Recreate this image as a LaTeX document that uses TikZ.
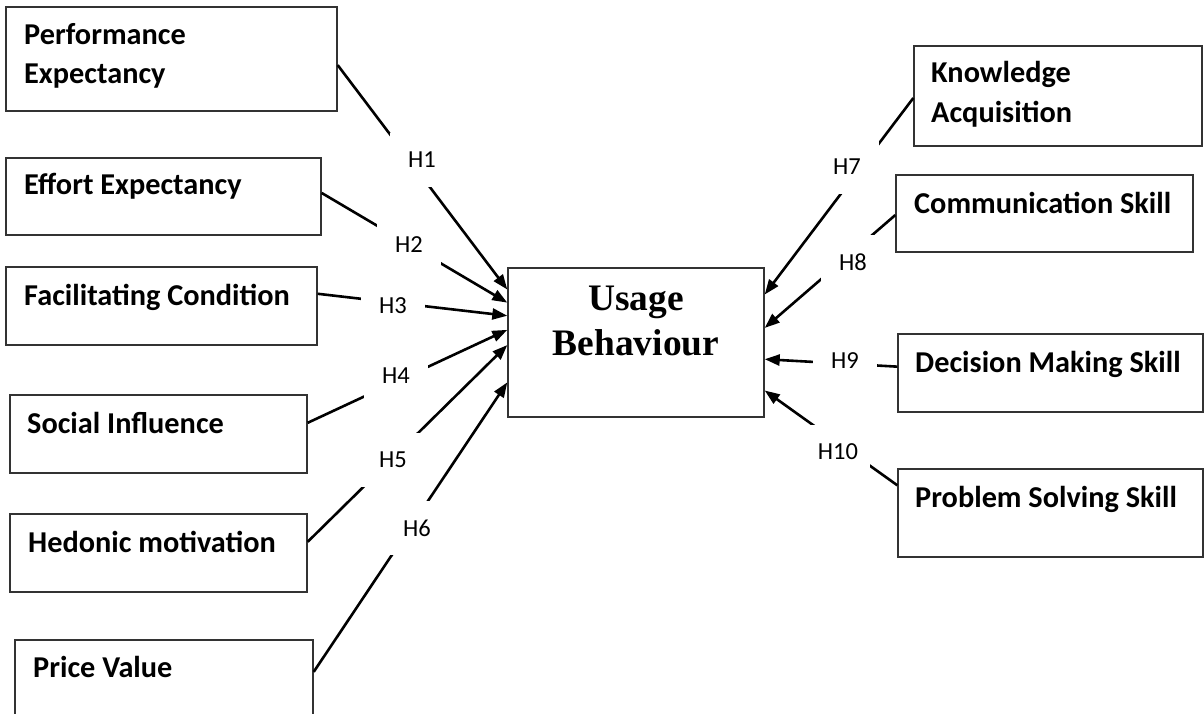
\documentclass[tikz,border=0pt]{standalone}
\usepackage{fontspec}
\setmainfont{Carlito}
\newfontfamily\headserif{Liberation Serif}
\usetikzlibrary{arrows.meta,calc}

\begin{document}
\begin{tikzpicture}[x=1pt,y=-1pt,
  box/.style={draw=black!80, line width=1.4pt, rectangle, inner sep=0pt},
  boxtext/.style={anchor=base west, inner sep=0pt, font=\fontsize{30.3}{36}\selectfont\bfseries},
  hyp/.style={fill=white, minimum width=64pt, minimum height=54pt, inner sep=0pt, font=\fontsize{24.5}{28}\selectfont},
  headtext/.style={anchor=base, inner sep=0pt, font=\headserif\fontsize{37.4}{44}\selectfont\bfseries},
  link/.style={line width=2.6pt, -{Triangle[length=15pt,width=11pt]}},
]
\useasboundingbox (0,0) rectangle (1204,714);
\clip (0,0) rectangle (1204,714);

% predictor boxes (left)
\node[box, minimum width=331pt, minimum height=104pt] (pe) at (171.5,59) {};
\node[box, minimum width=315pt, minimum height=77pt] (ee) at (163.5,196.5) {};
\node[box, minimum width=311pt, minimum height=78pt] (fc) at (161.5,306) {};
\node[box, minimum width=297pt, minimum height=78pt] (si) at (158.5,434) {};
\node[box, minimum width=297pt, minimum height=78pt] (hm) at (158.5,553) {};
\node[box, minimum width=298pt, minimum height=80pt] (pv) at (164,680) {};

% central construct
\node[box, minimum width=256pt, minimum height=149pt] (ub) at (636,342.5) {};

% outcome boxes (right)
\node[box, minimum width=288pt, minimum height=100pt] (ka) at (1058,96) {};
\node[box, minimum width=297pt, minimum height=77pt] (cs) at (1044.5,213.5) {};
\node[box, minimum width=305pt, minimum height=78pt] (dm) at (1050.5,373) {};
\node[box, minimum width=305pt, minimum height=88pt] (ps) at (1050.5,513) {};

% box captions
\node[boxtext] (pe-a) at (24,45) {Performance};
\node[boxtext] (pe-b) at (24,84) {Expectancy};
\node[boxtext] (ee-t) at (24,195) {Effort Expectancy};
\node[boxtext] (fc-t) at (24,305) {Facilitating Condition};
\node[boxtext] (si-t) at (27,433) {Social Influence};
\node[boxtext] (hm-t) at (28,552) {Hedonic motivation};
\node[boxtext] (pv-t) at (33,677) {Price Value};
\node[boxtext] (ka-a) at (931,83) {Knowledge};
\node[boxtext] (ka-b) at (931,123) {Acquisition};
\node[boxtext] (cs-t) at (914,213) {Communication Skill};
\node[boxtext] (dm-t) at (915,372) {Decision Making Skill};
\node[boxtext] (ps-t) at (915,507) {Problem Solving Skill};

\node[headtext] (ub-a) at (636,310) {Usage};
\node[headtext] (ub-b) at (636,355) {Behaviour};

% hypothesised paths
\draw[link] ($(pe.north east)!0.558!(pe.south east)$) -- ($(ub.north west)!0.148!(ub.south west)$);
\draw[link] ($(ee.north east)!0.455!(ee.south east)$) -- ($(ub.north west)!0.235!(ub.south west)$);
\draw[link] ($(fc.north east)!0.346!(fc.south east)$) -- ($(ub.north west)!0.322!(ub.south west)$);
\draw[link] ($(si.north east)!0.359!(si.south east)$) -- ($(ub.north west)!0.416!(ub.south west)$);
\draw[link] ($(hm.north east)!0.359!(hm.south east)$) -- ($(ub.north west)!0.517!(ub.south west)$);
\draw[link] ($(pv.north east)!0.40!(pv.south east)$) -- ($(ub.north west)!0.765!(ub.south west)$);
\draw[link] ($(ka.north west)!0.52!(ka.south west)$) -- ($(ub.north east)!0.181!(ub.south east)$);
\draw[link] ($(cs.north west)!0.52!(cs.south west)$) -- ($(ub.north east)!0.403!(ub.south east)$);
\draw[link] ($(dm.north west)!0.42!(dm.south west)$) -- ($(ub.north east)!0.611!(ub.south east)$);
\draw[link] ($(ps.north west)!0.19!(ps.south west)$) -- ($(ub.north east)!0.819!(ub.south east)$);

% hypothesis labels
\node[hyp] (h1) at (422,160) {H1};
\node[hyp] (h2) at (409,245) {H2};
\node[hyp] (h3) at (393,306) {H3};
\node[hyp] (h4) at (396,376) {H4};
\node[hyp] (h5) at (393,460) {H5};
\node[hyp] (h6) at (417,528) {H6};
\node[hyp] (h7) at (847,167) {H7};
\node[hyp] (h8) at (853,262) {H8};
\node[hyp] (h9) at (845,361) {H9};
\node[hyp] (h10) at (838,452) {H10};
\end{tikzpicture}
\end{document}
